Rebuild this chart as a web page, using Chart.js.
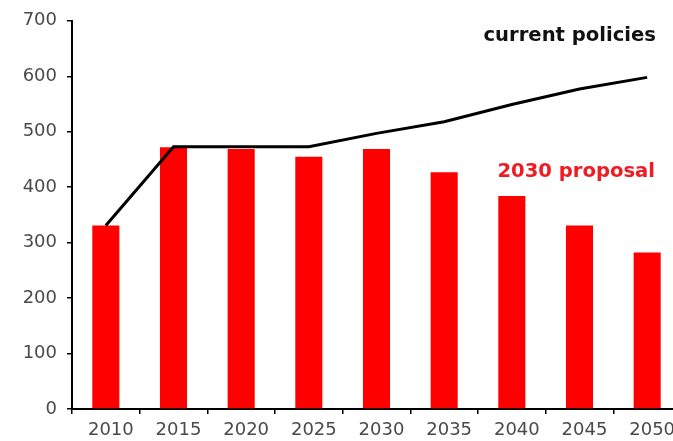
<!DOCTYPE html>
<html>
<head>
<meta charset="utf-8">
<script src="https://cdn.jsdelivr.net/npm/chart.js@4/dist/chart.umd.min.js"></script>
<style>
  html, body { margin: 0; padding: 0; background: #fff; overflow: hidden; width: 673px; height: 441px; }
  #wrap { width: 700px; height: 441px; }
  canvas { display: block; filter: blur(0.6px); }
</style>
</head>
<body>
<div id="wrap"><canvas id="chart" width="700" height="441"></canvas></div>
<script>
// Years on the horizontal axis
const years = ['2010', '2015', '2020', '2025', '2030', '2035', '2040', '2045', '2050'];
// Emissions under the 2030 proposal (bars)
const proposal2030 = [331, 472, 469, 455, 469, 427, 384, 331, 282];
// Emissions under current policies (line)
const currentPolicies = [331, 473, 473, 473, 497, 518, 549, 577, 598];
// Vertical axis range
const yMin = 0, yMax = 700, yStep = 100;

const seriesLabels = {
  id: 'seriesLabels',
  afterDatasetsDraw(chart) {
    const ctx = chart.ctx;
    ctx.save();
    ctx.textAlign = 'right';
    ctx.textBaseline = 'alphabetic';
    ctx.font = 'bold 19.6px "DejaVu Sans"';
    ctx.fillStyle = '#111';
    ctx.fillText('current policies', 656, 41);
    ctx.fillStyle = '#f01c24';
    ctx.fillText('2030 proposal', 655, 177);
    ctx.restore();
  }
};

new Chart(document.getElementById('chart'), {
  data: {
    labels: years,
    datasets: [
      {
        type: 'line',
        label: 'current policies',
        data: currentPolicies,
        borderColor: '#000',
        borderWidth: 3,
        pointRadius: 0,
        tension: 0,
        fill: false,
        order: 0
      },
      {
        type: 'bar',
        label: '2030 proposal',
        data: proposal2030,
        backgroundColor: '#ff0000',
        borderWidth: 0,
        categoryPercentage: 1,
        barPercentage: 0.4,
        order: 1
      }
    ]
  },
  options: {
    responsive: false,
    animation: false,
    layout: { padding: { top: 20, right: 19, bottom: 0, left: 0 } },
    plugins: { legend: { display: false }, tooltip: { enabled: false } },
    scales: {
      x: {
        offset: true,
        grid: { offset: true, drawOnChartArea: false, color: '#000', lineWidth: 1.5, tickLength: 5 },
        border: { color: '#000', width: 2 },
        ticks: { color: '#4a4a4a', font: { family: 'DejaVu Sans', size: 18 }, padding: 6, labelOffset: 5, maxRotation: 0, autoSkip: false },
        afterFit(scale) { scale.height = 32; }
      },
      y: {
        min: yMin,
        max: yMax,
        grid: { drawOnChartArea: false, color: '#000', lineWidth: 1.5, tickLength: 5 },
        border: { color: '#000', width: 2 },
        ticks: { stepSize: yStep, color: '#4a4a4a', font: { family: 'DejaVu Sans', size: 18 }, padding: 10 },
        afterFit(scale) { scale.width = 72; }
      }
    }
  },
  plugins: [seriesLabels]
});
</script>
</body>
</html>
